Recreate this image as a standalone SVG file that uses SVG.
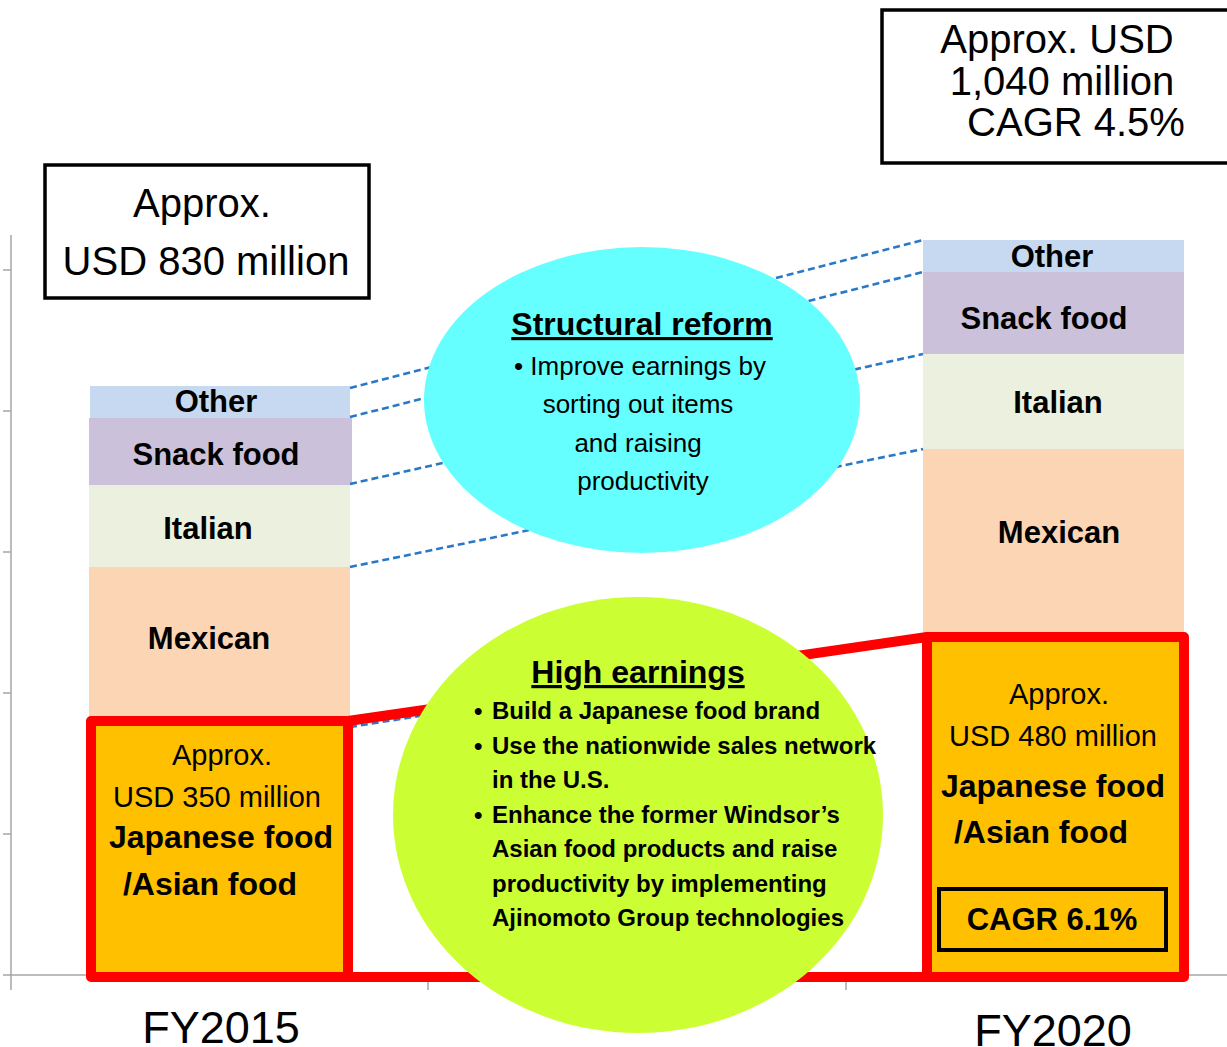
<svg xmlns="http://www.w3.org/2000/svg" width="1227" height="1047" viewBox="0 0 1227 1047">
  <style>
    text { font-family: "Liberation Sans", Arial, sans-serif; fill: #000; }
    .seg-label { font-size: 31px; font-weight: bold; text-anchor: middle; }
    .big { font-size: 40px; text-anchor: middle; }
    .fy { font-size: 45px; text-anchor: middle; }
    .amt { font-size: 29px; text-anchor: middle; }
    .jp { font-size: 32px; font-weight: bold; text-anchor: middle; }
    .title { font-size: 32px; font-weight: bold; text-anchor: middle; text-decoration: underline; }
    .reg { font-size: 26px; text-anchor: middle; }
    .pt { font-size: 24px; font-weight: bold; }
    .axis { stroke: #A6A6A6; stroke-width: 1.5; fill: none; }
    .dash { stroke: #2A78C8; stroke-width: 2.6; stroke-dasharray: 7 4; fill: none; }
    .frame { fill: #fff; stroke: #000; stroke-width: 3.5; }
    .other { fill: #C6D9F1; }
    .snack { fill: #CCC1DA; }
    .italian { fill: #EBF1DE; }
    .mexican { fill: #FCD5B5; }
    .japanese { fill: #FFC000; }
  </style>

  <!-- chart axes -->
  <g id="axes">
    <path class="axis" d="M11,235 V990 M3,270 H11 M3,411 H11 M3,552 H11 M3,693 H11 M3,834 H11 M3,975 H1227 M11,975 V990 M428,975 V990 M846,975 V990"/>
  </g>

  <!-- FY2015 stacked bar -->
  <g id="bar-fy2015">
    <rect class="other" x="90" y="386" width="260" height="32"/>
    <rect class="snack" x="89" y="418" width="263" height="67"/>
    <rect class="italian" x="89" y="485" width="261" height="82"/>
    <rect class="mexican" x="89" y="567" width="261" height="154"/>
    <rect class="japanese" x="91" y="721" width="257" height="256"/>
    <text class="seg-label" x="216" y="412">Other</text>
    <text class="seg-label" x="216" y="465">Snack food</text>
    <text class="seg-label" x="208" y="539">Italian</text>
    <text class="seg-label" x="209" y="649">Mexican</text>
  </g>

  <!-- FY2020 stacked bar -->
  <g id="bar-fy2020">
    <rect class="other" x="923" y="240" width="261" height="32"/>
    <rect class="snack" x="923" y="272" width="261" height="82"/>
    <rect class="italian" x="923" y="354" width="261" height="95"/>
    <rect class="mexican" x="923" y="449" width="261" height="188"/>
    <rect class="japanese" x="927" y="637" width="257" height="340"/>
    <text class="seg-label" x="1052" y="267">Other</text>
    <text class="seg-label" x="1044" y="329">Snack food</text>
    <text class="seg-label" x="1058" y="413">Italian</text>
    <text class="seg-label" x="1059" y="543">Mexican</text>
  </g>

  <!-- dashed guides between segment boundaries -->
  <g id="connectors">
    <path class="dash" d="M350,388 L923,240"/>
    <path class="dash" d="M350,417 L923,272"/>
    <path class="dash" d="M350,484 L923,354"/>
    <path class="dash" d="M350,567 L923,449"/>
    <path class="dash" d="M350,727 L923,636"/>
    <!-- red outline around the Japanese/Asian food segment -->
    <path d="M91,721 H348 L927,637 H1184 V977 H91 Z M348,721 V977 M927,637 V977" fill="none" stroke="#FF0000" stroke-width="10" stroke-linejoin="round"/>
  </g>

  <!-- Japanese / Asian food labels -->
  <g id="jp-fy2015">
    <text class="amt" x="222" y="765">Approx.</text>
    <text class="amt" x="217" y="807">USD 350 million</text>
    <text class="jp" x="221" y="848">Japanese food</text>
    <text class="jp" x="210" y="895">/Asian food</text>
  </g>
  <g id="jp-fy2020">
    <text class="amt" x="1059" y="704">Approx.</text>
    <text class="amt" x="1053" y="746">USD 480 million</text>
    <text class="jp" x="1053" y="797">Japanese food</text>
    <text class="jp" x="1041" y="843">/Asian food</text>
    <rect x="939" y="889" width="227" height="61" fill="none" stroke="#000" stroke-width="4"/>
    <text class="seg-label" x="1052" y="930">CAGR 6.1%</text>
  </g>

  <!-- totals -->
  <g id="total-fy2015">
    <rect class="frame" x="45" y="165" width="324" height="133"/>
    <text class="big" x="202" y="217">Approx.</text>
    <text class="big" x="206" y="275">USD 830 million</text>
  </g>
  <g id="total-fy2020">
    <rect class="frame" x="882" y="10" width="360" height="153"/>
    <text class="big" x="1057" y="53">Approx. USD</text>
    <text class="big" x="1062" y="95">1,040 million</text>
    <text class="big" x="1076" y="136">CAGR 4.5%</text>
  </g>

  <!-- structural reform bubble -->
  <g id="structural-reform">
    <ellipse cx="642" cy="400" rx="218" ry="153" fill="#66FFFF"/>
    <text class="title" x="642" y="335">Structural reform</text>
    <text class="reg" x="640" y="375">• Improve earnings by</text>
    <text class="reg" x="638" y="413">sorting out items</text>
    <text class="reg" x="638" y="452">and raising</text>
    <text class="reg" x="643" y="490">productivity</text>
  </g>

  <!-- high earnings bubble -->
  <g id="high-earnings">
    <ellipse cx="638" cy="815" rx="245" ry="218" fill="#CCFF33"/>
    <text class="title" x="638" y="683">High earnings</text>
    <text class="pt" x="474" y="719">•</text>
    <text class="pt" x="492" y="719">Build a Japanese food brand</text>
    <text class="pt" x="474" y="754">•</text>
    <text class="pt" x="492" y="754">Use the nationwide sales network</text>
    <text class="pt" x="492" y="788">in the U.S.</text>
    <text class="pt" x="474" y="823">•</text>
    <text class="pt" x="492" y="823">Enhance the former Windsor’s</text>
    <text class="pt" x="492" y="857">Asian food products and raise</text>
    <text class="pt" x="492" y="892">productivity by implementing</text>
    <text class="pt" x="492" y="926">Ajinomoto Group technologies</text>
  </g>

  <!-- fiscal year labels -->
  <g id="years">
    <text class="fy" x="221" y="1043">FY2015</text>
    <text class="fy" x="1053" y="1046">FY2020</text>
  </g>
</svg>
